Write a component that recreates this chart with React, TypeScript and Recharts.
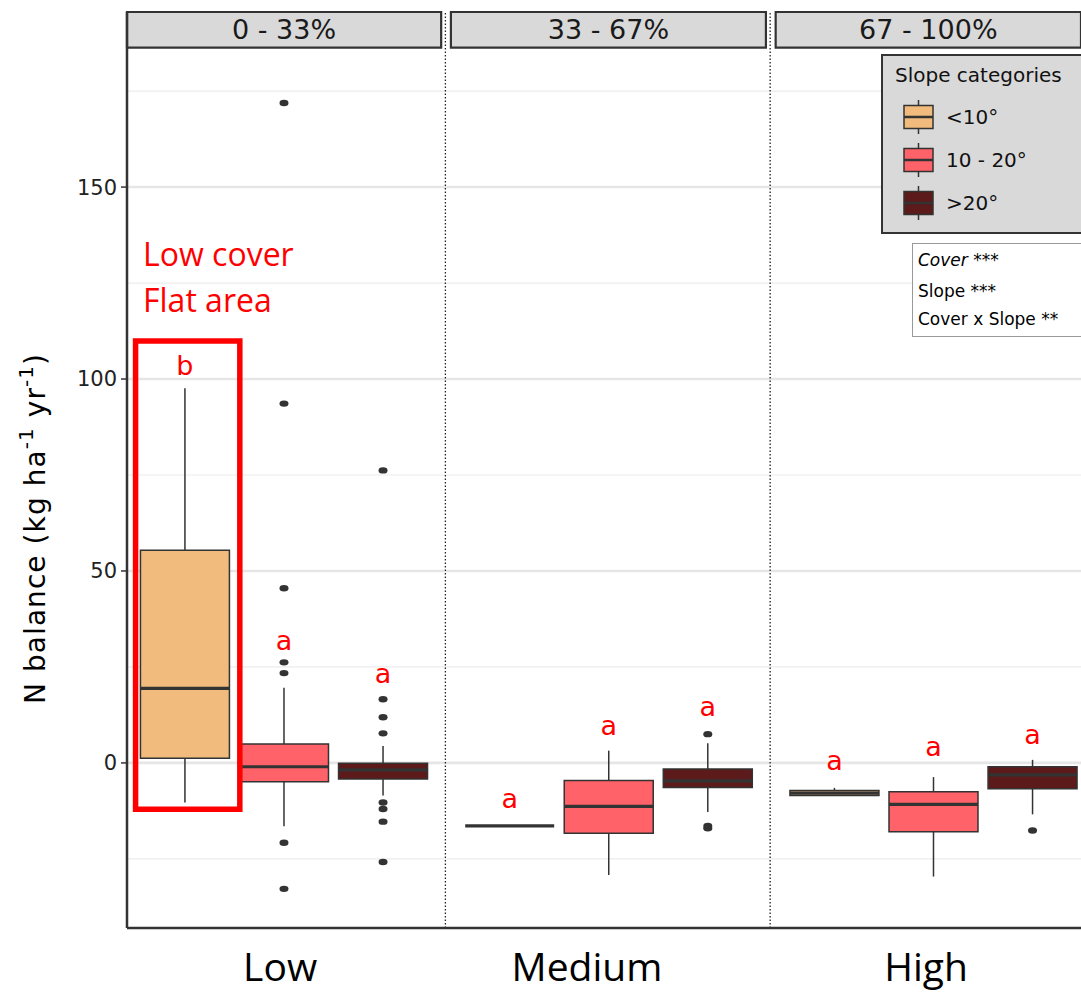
import React from 'react';
import {
  ComposedChart,
  XAxis,
  YAxis,
  Scatter,
  ReferenceArea,
  ReferenceLine,
} from 'recharts';

// facets / groups
const panels = ['0 - 33%', '33 - 67%', '67 - 100%'];
const coverLevels = ['Low', 'Medium', 'High'];
const slopeCats = ['<10°', '10 - 20°', '>20°'];
const slopeColors = ['#f0bb7c', '#ff6369', '#5c1a1a'];

// box stats, [cover][slope]
const whiskerLo = [[-10.3, -16.5, -8.5], [-16.4, -29.2, -12.8], [-8.6, -29.6, -13.4]];
const q1 = [[1.2, -4.9, -4.2], [-16.4, -18.3, -6.4], [-8.5, -17.9, -6.7]];
const median = [[19.4, -1.0, -1.8], [-16.4, -11.3, -4.7], [-7.85, -10.8, -3.1]];
const q3 = [[55.4, 4.9, -0.1], [-16.4, -4.6, -1.6], [-7.2, -7.5, -1.0]];
const whiskerHi = [[97.6, 19.6, 4.4], [-16.4, 3.2, 5.1], [-6.5, -3.7, 0.8]];
const outliers = [
  [[], [171.9, 93.6, 45.5, 26.2, 23.4, -20.8, -32.8], [76.2, 16.6, 11.9, 7.7, -10.3, -12.0, -15.3, -25.8]],
  [[], [], [7.5, -16.4, -17.0]],
  [[], [], [-17.6]],
];

// Tukey letters and their heights
const letters = [['b', 'a', 'a'], ['a', 'a', 'a'], ['a', 'a', 'a']];
const letterY = [[103.5, 31.9, 23.4], [-9.3, 9.8, 14.6], [0.7, 4.3, 7.4]];

const yTicks = [0, 50, 100, 150];
const gridMajor = [0, 50, 100, 150];
const gridMinor = [-25, 25, 75, 125, 175];
// cover labels were placed by hand, a bit left of the panel centres
const xLabelTicks = [-0.012, 0.933, 1.977];

const X_MIN = -0.4834;
const X_MAX = 2.4542;
const Y_MIN = -43;
const Y_MAX = 195.6;
const STRIP_BOTTOM = 186.3;
const DODGE = 0.305;
const HALF_BOX = 0.137;
const INK = '#333333';

const boxes = coverLevels.flatMap((_, c) =>
  slopeCats.map((__, s) => ({
    c,
    s,
    x: c + (s - 1) * DODGE,
    lo: whiskerLo[c][s],
    q1: q1[c][s],
    med: median[c][s],
    q3: q3[c][s],
    hi: whiskerHi[c][s],
  }))
);

const outlierRows = boxes.flatMap((b) => outliers[b.c][b.s].map((v) => ({ x: b.x, y: v })));
const letterRows = boxes.map((b) => ({ x: b.x, y: letterY[b.c][b.s], letter: letters[b.c][b.s] }));

const OutlierDot = (props: any) => {
  const { cx, cy } = props;
  if (cx == null || cy == null) return null;
  return <ellipse cx={cx} cy={cy} rx={4.5} ry={3.2} fill={INK} />;
};

const LetterMark = (props: any) => {
  const { cx, cy, payload } = props;
  if (cx == null || cy == null) return null;
  return (
    <text x={cx} y={cy} dy="0.355em" textAnchor="middle" fill="#ff0000" fontSize={27} fontFamily="DejaVu Sans">
      {payload.letter}
    </text>
  );
};

const App: React.FC = () => {
  return (
    <div style={{ position: 'absolute', left: 0, top: 0, width: 1081, height: 992, overflow: 'hidden', background: '#fff', fontFamily: 'DejaVu Sans' }}>
      <ComposedChart width={1081} height={992} margin={{ top: 12, right: 0, bottom: 0, left: 0 }}>
        <XAxis
          type="number"
          dataKey="x"
          domain={[X_MIN, X_MAX]}
          allowDataOverflow
          ticks={xLabelTicks}
          tickFormatter={(v) => coverLevels[Math.round(v)] ?? ''}
          height={64}
          tickSize={0}
          tickMargin={25}
          tickLine={false}
          axisLine={{ stroke: INK, strokeWidth: 2.5 }}
          tick={{ fontSize: 39, fontFamily: 'Open Sans', fill: '#000' }}
        />
        <YAxis
          type="number"
          dataKey="y"
          domain={[Y_MIN, Y_MAX]}
          allowDataOverflow
          ticks={yTicks}
          width={127}
          tickSize={6}
          tickMargin={4}
          tickLine={{ stroke: INK, strokeWidth: 1.5 }}
          axisLine={{ stroke: INK, strokeWidth: 2.5 }}
          tick={{ fontSize: 21, fontFamily: 'DejaVu Sans', fill: '#222' }}
        />

        {gridMinor.map((v) => (
          <ReferenceLine key={'gm' + v} y={v} stroke="#ececec" strokeWidth={1.2} zIndex={1} />
        ))}
        {gridMajor.map((v) => (
          <ReferenceLine key={'gM' + v} y={v} stroke="#e6e6e6" strokeWidth={2.6} zIndex={1} />
        ))}

        {panels.map((p, k) => (
          <ReferenceArea
            key={'strip' + k}
            x1={Math.max(k - 0.486, X_MIN)}
            x2={Math.min(k + 0.484, X_MAX)}
            y1={STRIP_BOTTOM}
            y2={Y_MAX}
            fill="#d9d9d9"
            fillOpacity={1}
            stroke={INK}
            strokeWidth={2.2}
            ifOverflow="visible"
            zIndex={2}
            label={{ value: p, position: 'center', fontSize: 27, fill: '#1a1a1a', fontFamily: 'DejaVu Sans' }}
          />
        ))}

        {[0, 1].map((k) => (
          <ReferenceLine
            key={'sep' + k}
            x={k + 0.497}
            stroke="#222"
            strokeWidth={1.3}
            strokeDasharray="1.5 2"
            zIndex={3}
          />
        ))}

        {boxes.map((b, i) => (
          <ReferenceLine
            key={'wl' + i}
            segment={[{ x: b.x, y: b.lo }, { x: b.x, y: b.q1 }]}
            stroke={INK}
            strokeWidth={1.5}
            ifOverflow="visible"
            zIndex={4}
          />
        ))}
        {boxes.map((b, i) => (
          <ReferenceLine
            key={'wh' + i}
            segment={[{ x: b.x, y: b.q3 }, { x: b.x, y: b.hi }]}
            stroke={INK}
            strokeWidth={1.5}
            ifOverflow="visible"
            zIndex={4}
          />
        ))}
        {boxes.map((b, i) => (
          <ReferenceArea
            key={'box' + i}
            x1={b.x - HALF_BOX}
            x2={b.x + HALF_BOX}
            y1={b.q1}
            y2={b.q3}
            fill={slopeColors[b.s]}
            fillOpacity={1}
            stroke={INK}
            strokeWidth={1.5}
            ifOverflow="visible"
            zIndex={5}
          />
        ))}
        {boxes.map((b, i) => (
          <ReferenceLine
            key={'med' + i}
            segment={[{ x: b.x - HALF_BOX, y: b.med }, { x: b.x + HALF_BOX, y: b.med }]}
            stroke={INK}
            strokeWidth={3.2}
            ifOverflow="visible"
            zIndex={6}
          />
        ))}

        <ReferenceArea
          x1={-0.457}
          x2={-0.136}
          y1={-12.1}
          y2={109.9}
          fill="none"
          fillOpacity={0}
          stroke="#ff0000"
          strokeWidth={5.5}
          ifOverflow="visible"
          zIndex={7}
        />

        <Scatter data={outlierRows} shape={OutlierDot} isAnimationActive={false} legendType="none" zIndex={8} />
        <Scatter data={letterRows} shape={LetterMark} isAnimationActive={false} legendType="none" zIndex={9} />
      </ComposedChart>

      <svg width={1081} height={992} style={{ position: 'absolute', left: 0, top: 0, pointerEvents: 'none' }}>
        <text
          x={45}
          y={529}
          transform="rotate(-90, 45, 529)"
          textAnchor="middle"
          fontSize={28}
          fontFamily="DejaVu Sans"
          fill="#000"
          textLength={350}
          lengthAdjust="spacing"
        >
          N balance (kg ha<tspan dy={-12} fontSize={20}>-1</tspan>
          <tspan dy={12}> yr</tspan>
          <tspan dy={-12} fontSize={20}>-1</tspan>
          <tspan dy={12}>)</tspan>
        </text>

        <text x={143} y={266} fontSize={32} fontFamily="Open Sans" fill="#ff0000">Low cover</text>
        <text x={143} y={312} fontSize={32} fontFamily="Open Sans" fill="#ff0000">Flat area</text>

        <rect x={882} y={55} width={230} height={178} fill="#d9d9d9" stroke={INK} strokeWidth={2} />
        <text x={895} y={82} fontSize={20} fontFamily="DejaVu Sans" fill="#111">Slope categories</text>
        {slopeCats.map((s, i) => {
          const cy = 117 + 43 * i;
          return (
            <g key={s}>
              <line x1={918.5} x2={918.5} y1={cy - 17} y2={cy + 17} stroke={INK} strokeWidth={1.5} />
              <rect x={904} y={cy - 11.5} width={29} height={23} fill={slopeColors[i]} stroke={INK} strokeWidth={1.5} />
              <line x1={904} x2={933} y1={cy} y2={cy} stroke={INK} strokeWidth={2.5} />
              <text x={946} y={cy + 7} fontSize={20} fontFamily="DejaVu Sans" fill="#111">{s}</text>
            </g>
          );
        })}

        <rect x={912.5} y={243.5} width={200} height={93} fill="#fff" stroke="#999" strokeWidth={1} />
        <text x={918} y={266} fontSize={17} fontFamily="DejaVu Sans" fill="#000">
          <tspan fontStyle="italic">Cover</tspan> ***
        </text>
        <text x={918} y={297} fontSize={17} fontFamily="DejaVu Sans" fill="#000">Slope ***</text>
        <text x={918} y={325} fontSize={17} fontFamily="DejaVu Sans" fill="#000">Cover x Slope **</text>
      </svg>
    </div>
  );
};

export default App;
